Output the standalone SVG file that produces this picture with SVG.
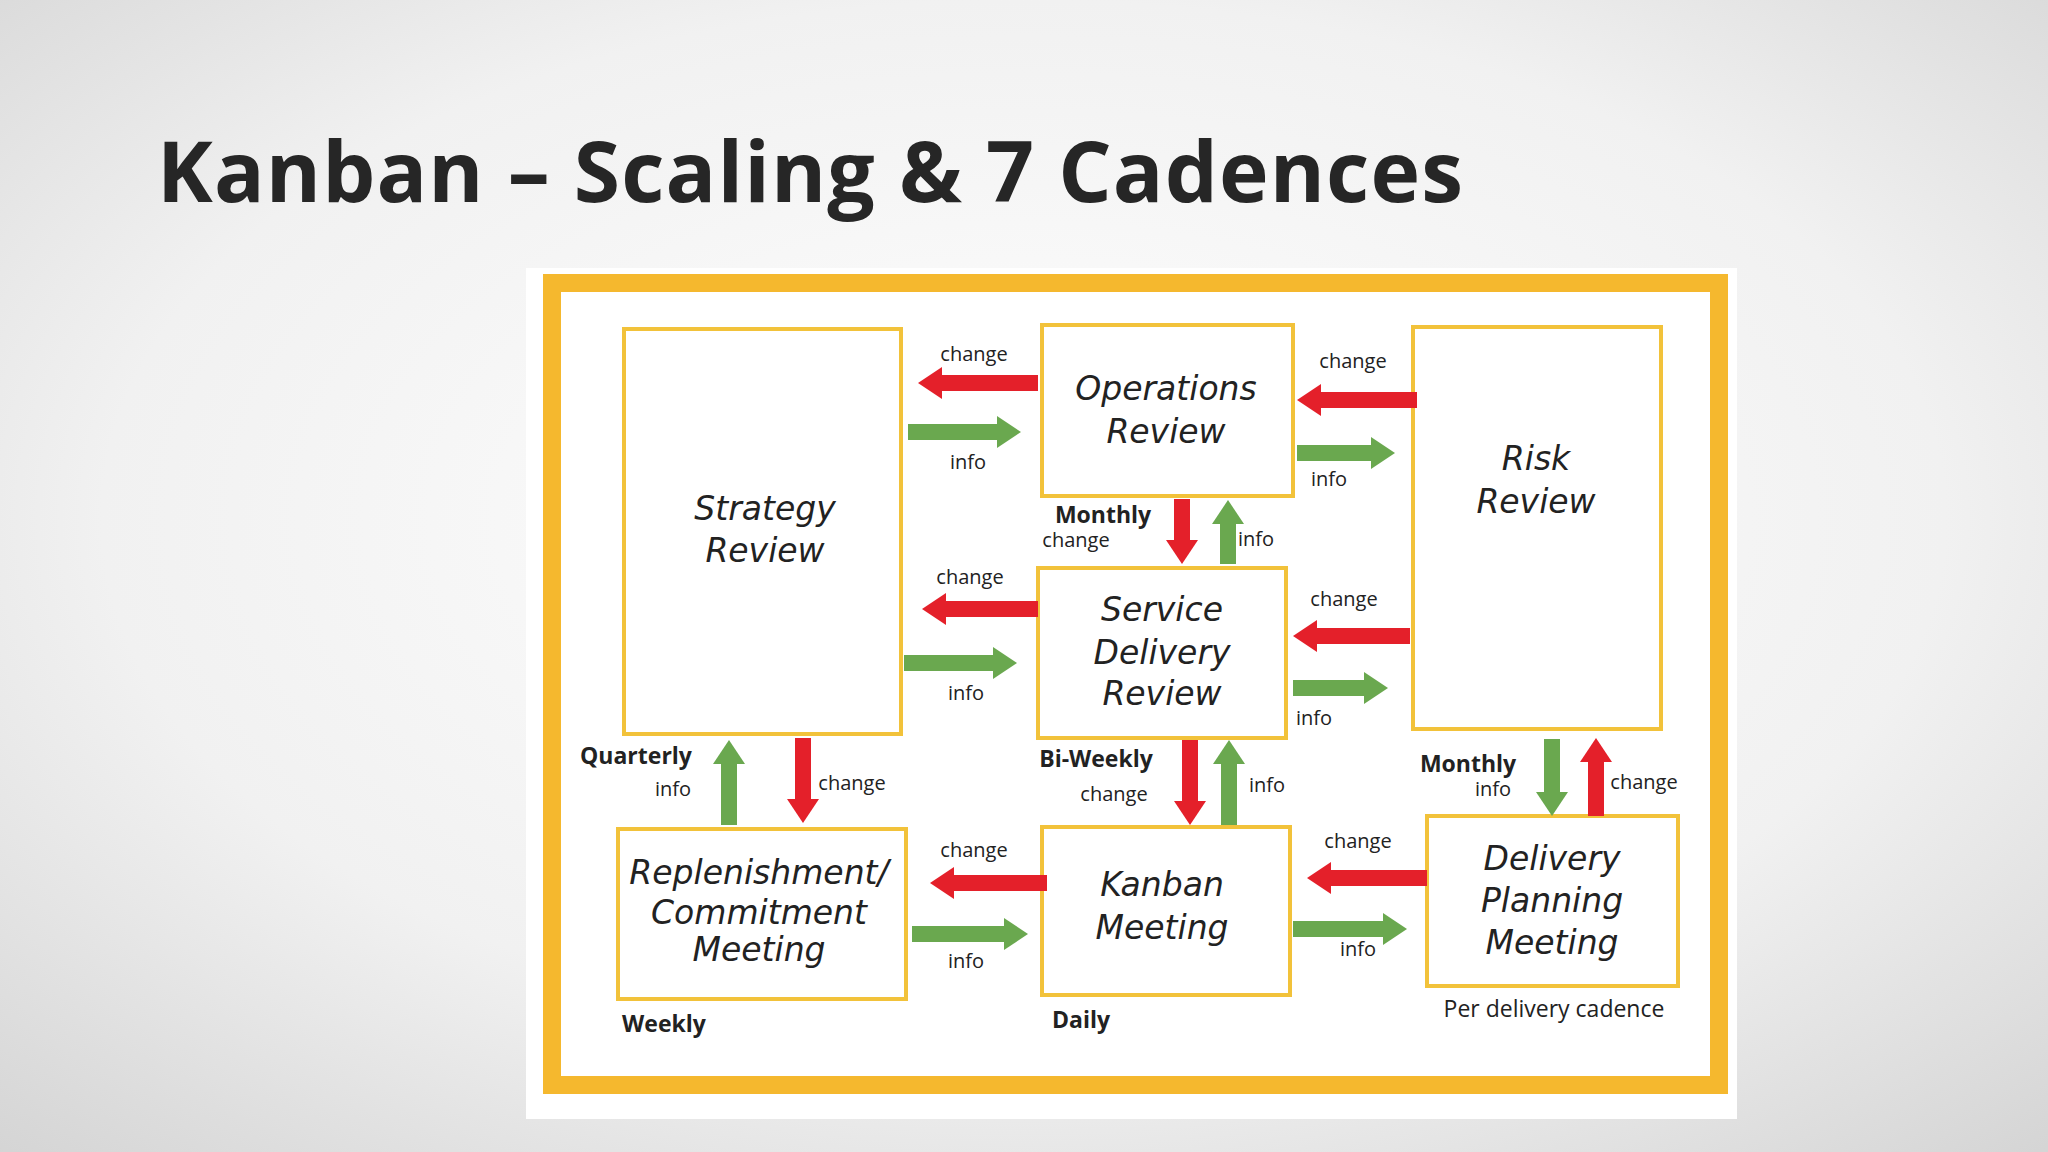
<svg xmlns="http://www.w3.org/2000/svg" width="2048" height="1152" viewBox="0 0 2048 1152">
<defs>
<radialGradient id="bg" cx="50%" cy="45%" r="75%">
<stop offset="0" stop-color="#ffffff"/><stop offset="0.6" stop-color="#f1f1f1"/><stop offset="1" stop-color="#d4d4d4"/>
</radialGradient>
<marker id="hr" markerUnits="userSpaceOnUse" markerWidth="26" markerHeight="34" refX="2" refY="16" orient="auto"><path d="M0,0 L24,16 L0,32 z" fill="#e4202a"/></marker>
<marker id="hg" markerUnits="userSpaceOnUse" markerWidth="26" markerHeight="34" refX="2" refY="16" orient="auto"><path d="M0,0 L24,16 L0,32 z" fill="#6aa84f"/></marker>
<style>
.box{fill:#fff;stroke:#f2c23a;stroke-width:4}
.bt{font-family:"DejaVu Sans",sans-serif;font-style:italic;font-size:33px;fill:#222;text-anchor:middle;dominant-baseline:central}
.r{stroke:#e4202a;stroke-width:16;marker-end:url(#hr)}
.g{stroke:#6aa84f;stroke-width:16;marker-end:url(#hg)}
.l{font-family:"Open Sans",sans-serif;font-size:20px;fill:#222;text-anchor:middle;dominant-baseline:central}
.b{font-weight:bold;font-size:23px}
.pd{font-size:23px}
</style>
</defs>
<rect width="2048" height="1152" fill="url(#bg)"/>
<text x="157" y="202" font-family="Open Sans, sans-serif" font-weight="bold" font-size="84" fill="#262626" textLength="1306">Kanban – Scaling &amp; 7 Cadences</text>
<rect x="526" y="268" width="1211" height="851" fill="#fff"/>
<rect x="552" y="283" width="1167" height="802" fill="none" stroke="#f5b82e" stroke-width="18"/>
<g id="strategy"><rect class="box" x="624" y="329" width="277" height="405"/><text class="bt" x="765" y="508">Strategy</text><text class="bt" x="765" y="550">Review</text></g>
<g id="operations"><rect class="box" x="1042" y="325" width="251" height="171"/><text class="bt" x="1166" y="388">Operations</text><text class="bt" x="1166" y="431">Review</text></g>
<g id="risk"><rect class="box" x="1413" y="327" width="248" height="402"/><text class="bt" x="1536" y="458">Risk</text><text class="bt" x="1536" y="501">Review</text></g>
<g id="service"><rect class="box" x="1038" y="568" width="248" height="170"/><text class="bt" x="1162" y="609">Service</text><text class="bt" x="1162" y="652">Delivery</text><text class="bt" x="1162" y="693">Review</text></g>
<g id="replenishment"><rect class="box" x="618" y="829" width="288" height="170"/><text class="bt" x="759" y="872">Replenishment/</text><text class="bt" x="759" y="912">Commitment</text><text class="bt" x="759" y="949">Meeting</text></g>
<g id="kanban"><rect class="box" x="1042" y="827" width="248" height="168"/><text class="bt" x="1162" y="884">Kanban</text><text class="bt" x="1162" y="927">Meeting</text></g>
<g id="delivery"><rect class="box" x="1427" y="816" width="251" height="170"/><text class="bt" x="1552" y="858">Delivery</text><text class="bt" x="1552" y="900">Planning</text><text class="bt" x="1552" y="942">Meeting</text></g>
<g id="connectors">
<line class="r" x1="1038" y1="383" x2="940" y2="383"/>
<line class="g" x1="908" y1="432" x2="999" y2="432"/>
<line class="r" x1="1417" y1="400" x2="1319" y2="400"/>
<line class="g" x1="1297" y1="453" x2="1373" y2="453"/>
<line class="r" x1="1182" y1="499" x2="1182" y2="542"/>
<line class="g" x1="1228" y1="564" x2="1228" y2="522"/>
<line class="r" x1="1038" y1="609" x2="944" y2="609"/>
<line class="g" x1="904" y1="663" x2="995" y2="663"/>
<line class="r" x1="1410" y1="636" x2="1315" y2="636"/>
<line class="g" x1="1293" y1="688" x2="1366" y2="688"/>
<line class="g" x1="729" y1="825" x2="729" y2="762"/>
<line class="r" x1="803" y1="738" x2="803" y2="801"/>
<line class="r" x1="1190" y1="740" x2="1190" y2="803"/>
<line class="g" x1="1229" y1="825" x2="1229" y2="762"/>
<line class="g" x1="1552" y1="739" x2="1552" y2="794"/>
<line class="r" x1="1596" y1="816" x2="1596" y2="760"/>
<line class="r" x1="1047" y1="883" x2="952" y2="883"/>
<line class="g" x1="912" y1="934" x2="1006" y2="934"/>
<line class="r" x1="1427" y1="878" x2="1329" y2="878"/>
<line class="g" x1="1293" y1="929" x2="1385" y2="929"/>
</g>
<g id="labels">
<text class="l" x="974" y="353">change</text><text class="l" x="968" y="461">info</text>
<text class="l" x="1353" y="360">change</text><text class="l" x="1329" y="478">info</text>
<text class="l b" x="1103" y="514">Monthly</text><text class="l" x="1076" y="539">change</text><text class="l" x="1256" y="538">info</text>
<text class="l" x="970" y="576">change</text><text class="l" x="966" y="692">info</text>
<text class="l" x="1344" y="598">change</text><text class="l" x="1314" y="717">info</text>
<text class="l b" x="636" y="755">Quarterly</text><text class="l" x="673" y="788">info</text><text class="l" x="852" y="782">change</text>
<text class="l b" x="1096" y="758">Bi-Weekly</text><text class="l" x="1114" y="793">change</text><text class="l" x="1267" y="784">info</text>
<text class="l b" x="1468" y="763">Monthly</text><text class="l" x="1493" y="788">info</text><text class="l" x="1644" y="781">change</text>
<text class="l" x="974" y="849">change</text><text class="l" x="966" y="960">info</text>
<text class="l" x="1358" y="840">change</text><text class="l" x="1358" y="948">info</text>
<text class="l b" x="664" y="1023">Weekly</text><text class="l b" x="1081" y="1019">Daily</text>
<text class="l pd" x="1554" y="1008">Per delivery cadence</text>
</g>
</svg>
